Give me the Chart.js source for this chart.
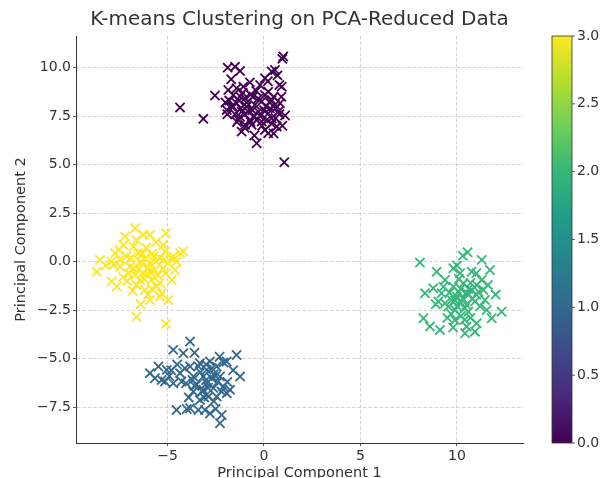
<!DOCTYPE html>
<html>
<head>
<meta charset="utf-8">
<script src="https://cdn.jsdelivr.net/npm/chart.js@4.4.1/dist/chart.umd.min.js"></script>
<style>
    html, body { margin: 0; padding: 0; background: #fff; }
    #wrap { width: 612px; height: 478px; }
</style>
</head>
<body>
<div id="wrap"><canvas id="kmeansChart" width="612" height="478"></canvas></div>
<script>
/* Daten (PC1, PC2) je Cluster */
const cluster0X = [1.00, 0.95, -1.88, -1.50, -1.24, 0.57, 0.40, 0.05, -0.73, 0.92, -2.54, -4.35, -3.14, -1.93, -1.59, -1.24, -1.42, -0.98, -1.16, -0.90, -0.55, -0.47, -0.12, 0.05, 0.22, 0.40, 0.57, 0.83, 1.09, -0.73, -0.38, -0.12, 0.22, 0.40, 0.66, 0.05, -1.16, -0.98, -1.33, -0.38, 1.05, -1.68, -1.42, -1.85, -1.07, -0.81, -0.29, -0.64, 0.31, 0.74, 0.22, -1.24, 0.14, -1.30, -1.00, -0.70, 0.50, -1.50, -0.20, 0.10, -1.80, -0.50, 0.60,
    -1.60, -1.20, -0.90, -0.60, -0.30, 0.00, 0.30, 0.60, 0.80, -1.40, -1.00, -0.70, -0.10, 0.40, 0.90, 0.70, 0.80, -1.70, -0.20, -1.10, -0.40, 0.20, -2.00, -1.90, 0.50, -0.50, 0.95];
const cluster0Y = [10.57, 10.45, 10.00, 10.05, 9.83, 9.88, 9.80, 9.45, 9.24, 9.02, 8.56, 7.94, 7.36, 7.82, 8.59, 8.51, 8.16, 8.42, 7.73, 7.99, 8.51, 8.08, 8.25, 8.59, 8.76, 8.33, 8.08, 8.16, 7.53, 7.30, 7.30, 7.22, 7.65, 7.39, 6.96, 6.79, 6.70, 7.05, 7.30, 6.10, 5.12, 7.99, 8.94, 8.85, 9.02, 7.73, 7.73, 7.05, 7.90, 7.73, 6.62, 7.47, 7.30, 8.30, 7.60, 8.60, 8.50, 7.60, 7.50, 8.00, 8.30, 7.50, 7.40,
    8.00, 7.90, 8.20, 7.80, 8.40, 7.80, 8.20, 7.90, 7.60, 7.20, 6.90, 7.20, 7.00, 7.10, 8.50, 9.60, 9.10, 9.40, 9.10, 8.70, 8.80, 9.30, 8.20, 7.60, 6.60, 6.50, 7.00];

const cluster1X = [-3.83, -4.70, -4.18, -1.42, -1.93, -5.91, -5.47, -5.04, -5.13, -4.70, -5.65, -4.35, -3.83, -3.32, -2.97, -2.80, -2.45, -3.66, -3.14, -2.71, -2.28, -4.04, -3.66, -3.14, -2.62, -2.11, -1.76, -1.24, -3.32, -4.53, -3.83, -3.40, -3.06, -2.80, -2.19, -2.28, -4.27, -2.88, -2.45, -1.93, -2.97, -3.49, -3.30, -2.60, -3.00, -2.40, -3.60,
    -3.40, -3.00, -2.70, -2.50, -2.90, -3.20, -3.70, -4.10, -4.50, -4.90, -5.30, -3.90, -2.60, -2.20, -1.90, -1.60, -2.10, -3.60, -4.00, -2.50, -4.80, -2.30, -3.10];
const cluster1Y = [-4.12, -4.55, -4.72, -4.81, -5.15, -5.75, -5.41, -5.58, -6.18, -6.27, -6.01, -5.75, -5.41, -5.24, -5.58, -5.15, -5.41, -5.92, -5.92, -6.01, -5.92, -6.27, -6.70, -6.61, -6.52, -6.44, -6.61, -5.92, -7.13, -7.65, -7.56, -7.65, -7.65, -7.83, -7.91, -8.33, -6.18, -6.96, -6.96, -6.78, -6.27, -6.35, -5.70, -5.80, -6.10, -6.20, -6.40,
    -5.40, -5.30, -5.50, -5.90, -6.50, -6.70, -6.10, -5.50, -5.30, -5.90, -6.10, -7.00, -7.20, -6.70, -6.20, -5.60, -5.20, -4.70, -7.60, -7.60, -5.60, -4.90, -7.00];

const cluster2X = [10.55, 8.08, 11.28, 11.71, 8.95, 9.81, 10.16, 10.76, 9.38, 11.28, 8.34, 8.77, 9.20, 9.81, 10.07, 10.33, 10.76, 11.11, 11.37, 9.03, 9.38, 9.72, 10.16, 10.50, 10.93, 11.45, 9.90, 10.59, 11.54, 11.80, 12.31, 8.26, 8.60, 9.12, 9.90, 10.50, 11.02, 10.93, 10.42, 9.55, 9.98, 10.59, 11.02, 10.30, 10.00, 10.60, 9.70,
    10.20, 10.50, 10.80, 11.00, 10.40, 9.90, 9.60, 10.10, 10.70, 10.00, 10.30, 9.50, 10.20, 10.70, 11.20, 9.30, 8.90, 11.60, 10.40, 9.80, 11.00, 12.00];
const cluster2Y = [0.48, -0.05, 0.09, -0.43, -0.52, -0.34, -0.60, -0.52, -0.95, -0.95, -1.63, -1.37, -1.63, -1.29, -1.55, -1.12, -1.46, -1.55, -1.46, -2.06, -2.15, -1.98, -2.06, -2.23, -2.06, -1.98, -2.49, -2.58, -2.49, -2.92, -2.58, -2.92, -3.35, -3.52, -3.01, -3.35, -3.18, -3.61, -3.69, -2.32, -1.80, -1.72, -1.20, -1.90, -2.30, -1.40, -2.70,
    -1.40, -1.60, -1.90, -1.70, -2.40, -2.00, -1.60, -0.90, -1.10, -0.20, 0.30, -2.90, -2.80, -2.90, -2.30, -1.30, -2.20, -1.20, -3.00, -3.40, -0.60, -1.70];

const cluster3X = [-6.68, -7.20, -6.25, -5.91, -5.08, -7.29, -6.77, -5.22, -5.13, -4.35, -8.50, -8.67, -7.72, -7.81, -7.46, -7.12, -6.94, -6.51, -6.34, -6.17, -5.91, -5.73, -5.39, -4.96, -4.70, -4.53, -7.89, -7.63, -6.68, -6.42, -5.99, -5.82, -5.56, -5.30, -4.78, -4.61, -5.91, -6.60, -5.08, -6.17, -6.77, -5.65, -5.22, -6.25, -5.39, -4.96, -7.46, -4.18, -6.40, -6.00, -5.60, -6.60, -5.80, -6.10,
    -6.50, -6.20, -5.90, -5.50, -6.90, -7.00, -6.30, -5.80, -5.40, -6.00, -5.10, -6.60, -7.50, -7.90, -8.20, -7.30, -6.80, -5.20, -4.80, -5.60, -6.40, -7.10];
const cluster3Y = [1.72, 1.29, 1.38, 1.38, 1.46, 0.86, 0.78, 0.86, 0.52, 0.43, 0.09, -0.52, 0.43, -0.17, 0.09, 0.26, -0.26, 0.43, -0.09, 0.17, -0.09, 0.26, 0.17, -0.09, 0.26, 0.00, -1.03, -1.29, -0.69, -0.95, -0.69, -0.95, -1.29, -1.63, -0.95, -0.43, -1.98, -2.84, -3.21, -1.46, -0.34, -0.43, -0.34, -0.60, -1.80, -1.98, -0.26, 0.52, 0.00, -0.30, 0.00, -1.20, -1.40, 0.70,
    -0.40, -0.90, -0.50, -0.70, 0.20, -0.60, 0.40, 0.40, -1.10, -1.70, -0.60, 1.10, 0.60, 0.00, -0.20, -0.80, -1.50, 0.10, 0.20, 1.00, -2.20, -1.00];

const xTickValues = [-5, 0, 5, 10];
const yTickValues = [-7.5, -5.0, -2.5, 0.0, 2.5, 5.0, 7.5, 10.0];
const colorbarTicks = [0.0, 0.5, 1.0, 1.5, 2.0, 2.5, 3.0];

// viridis bei 0, 1/3, 2/3, 1
const clusterColors = ['#440154', '#31688e', '#35b779', '#fde725'];
const viridisStops = ['#440154', '#482878', '#3e4a89', '#31688e', '#26828e', '#1f9e89', '#35b779', '#6ece58', '#b5de2b', '#fde725'];

const textColor = '#333333';
const chartTitle = 'K-means Clustering on PCA-Reduced Data';

function toPoints(xs, ys) {
    return xs.map((x, i) => ({ x: x, y: ys[i] }));
}

function fmt(v, digits) {
    const s = Math.abs(v).toFixed(digits);
    return v < 0 ? '\u2212' + s : s;
}

// Titel über der Plotfläche zentriert
const titlePlugin = {
    id: 'plotTitle',
    afterDraw(chart) {
        const ctx = chart.ctx;
        const area = chart.chartArea;
        ctx.save();
        ctx.fillStyle = textColor;
        ctx.font = '20px "DejaVu Sans"';
        ctx.textAlign = 'center';
        ctx.textBaseline = 'middle';
        ctx.fillText(chartTitle, (area.left + area.right) / 2, 20);
        ctx.restore();
    }
};

// Farbskala rechts neben dem Plot
const colorbarPlugin = {
    id: 'colorbar',
    afterDraw(chart) {
        const ctx = chart.ctx;
        const area = chart.chartArea;
        const left = 552, width = 20;
        const top = area.top, bottom = area.bottom;
        const grad = ctx.createLinearGradient(0, bottom, 0, top);
        viridisStops.forEach((c, i) => grad.addColorStop(i / (viridisStops.length - 1), c));
        ctx.save();
        ctx.fillStyle = grad;
        ctx.fillRect(left, top, width, bottom - top);
        ctx.strokeStyle = '#333';
        ctx.lineWidth = 0.8;
        ctx.strokeRect(left, top, width, bottom - top);
        ctx.fillStyle = textColor;
        ctx.font = '14px "DejaVu Sans"';
        ctx.textBaseline = 'middle';
        ctx.textAlign = 'left';
        const vmin = colorbarTicks[0], vmax = colorbarTicks[colorbarTicks.length - 1];
        colorbarTicks.forEach(t => {
            const y = bottom - (t - vmin) / (vmax - vmin) * (bottom - top);
            ctx.beginPath();
            ctx.moveTo(left + width, y);
            ctx.lineTo(left + width + 3, y);
            ctx.stroke();
            ctx.fillText(t.toFixed(1), left + width + 5, y);
        });
        ctx.restore();
    }
};

function makeDataset(label, xs, ys, color) {
    return {
        label: label,
        data: toPoints(xs, ys),
        pointStyle: 'crossRot',
        pointRadius: 6.5,
        pointHoverRadius: 6.5,
        borderColor: color,
        backgroundColor: color,
        pointBorderWidth: 1.8,
    };
}

const ctx = document.getElementById('kmeansChart').getContext('2d');
new Chart(ctx, {
    type: 'scatter',
    data: {
        datasets: [
            makeDataset('Cluster 0', cluster0X, cluster0Y, clusterColors[0]),
            makeDataset('Cluster 1', cluster1X, cluster1Y, clusterColors[1]),
            makeDataset('Cluster 2', cluster2X, cluster2Y, clusterColors[2]),
            makeDataset('Cluster 3', cluster3X, cluster3Y, clusterColors[3]),
        ],
    },
    options: {
        responsive: false,
        animation: false,
        layout: {
            padding: { left: 0, right: 89, top: 36, bottom: 0 },
        },
        plugins: {
            legend: { display: false },
            tooltip: { enabled: false },
            title: { display: false },
        },
        scales: {
            x: {
                type: 'linear',
                min: -9.74,
                max: 13.42,
                afterBuildTicks: axis => { axis.ticks = xTickValues.map(v => ({ value: v })); },
                afterFit: axis => { axis.height = 35; },
                ticks: {
                    color: textColor,
                    font: { family: 'DejaVu Sans', size: 14 },
                    padding: 2,
                    callback: v => fmt(v, 0),
                },
                grid: {
                    color: '#c8c8c8',
                    lineWidth: 0.8,
                    tickColor: '#333',
                    tickLength: 3,
                    tickBorderDash: [],
                },
                border: { display: true, color: '#333', width: 1, dash: [3.5, 2] },
                title: {
                    display: true,
                    text: 'Principal Component 1',
                    color: textColor,
                    font: { family: 'DejaVu Sans', size: 14.5 },
                    padding: { top: 0, bottom: -4 },
                },
            },
            y: {
                type: 'linear',
                min: -9.35,
                max: 11.63,
                afterBuildTicks: axis => { axis.ticks = yTickValues.map(v => ({ value: v })); },
                afterFit: axis => { axis.width = 76; },
                ticks: {
                    color: textColor,
                    font: { family: 'DejaVu Sans', size: 14 },
                    padding: 2,
                    callback: v => fmt(v, 1),
                },
                grid: {
                    color: '#c8c8c8',
                    lineWidth: 0.8,
                    tickColor: '#333',
                    tickLength: 3,
                    tickBorderDash: [],
                },
                border: { display: true, color: '#333', width: 1, dash: [3.5, 2] },
                title: {
                    display: true,
                    text: 'Principal Component 2',
                    color: textColor,
                    font: { family: 'DejaVu Sans', size: 14.5 },
                    padding: { top: 13, bottom: 0 },
                },
            },
        },
    },
    plugins: [titlePlugin, colorbarPlugin],
});
</script>
</body>
</html>
